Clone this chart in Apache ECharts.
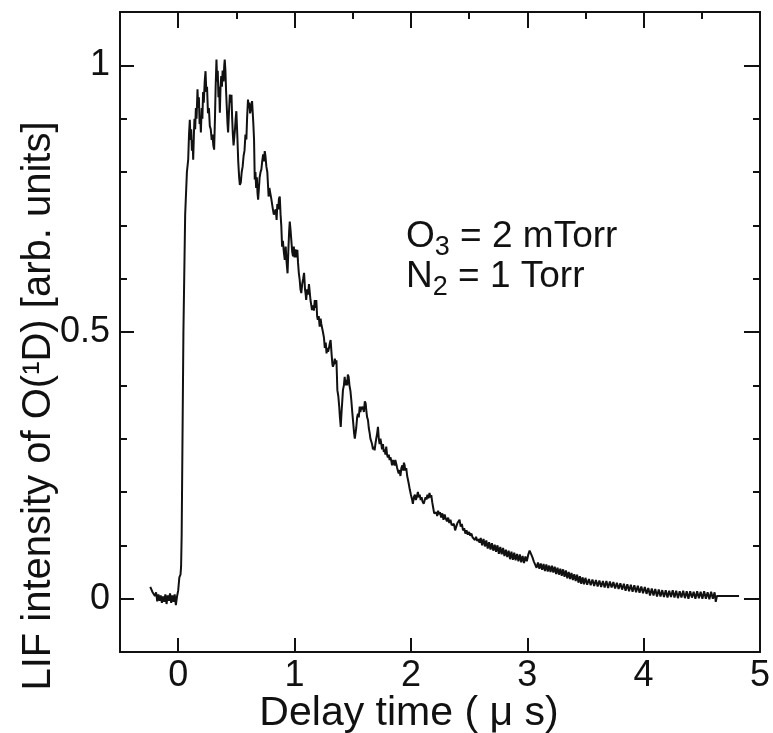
<!DOCTYPE html>
<html>
<head>
<meta charset="utf-8">
<script src="https://cdn.jsdelivr.net/npm/echarts@6/dist/echarts.min.js"></script>
<style>
html,body{margin:0;padding:0;background:#fff;}
#chart{width:773px;height:733px;}
</style>
</head>
<body>
<div id="chart"></div>
<script>
// ---- data ----
const xTickValues = [0, 1, 2, 3, 4, 5];
const xTopMinorTicks = [0.5, 1.5, 2.5, 3.5, 4.5];
const yTickValues = [0, 0.5, 1];
const yMinorTicks = [-0.1, 0.1, 0.2, 0.3, 0.4, 0.6, 0.7, 0.8, 0.9, 1.1];
const xTitle = 'Delay time ( \u03bc s)';
const yTitle = 'LIF intensity of O(\u00b9D) [arb. units]';

const timeUs = [
-0.24,-0.22,-0.20,-0.19,-0.18,-0.17,-0.16,-0.15,-0.14,-0.13,-0.12,-0.11,-0.10,-0.09,-0.08,-0.07,-0.06,-0.05,-0.04,-0.03,-0.02,-0.01,0.00,0.01,0.02,0.025,0.03,0.045,0.06,0.075,
0.086,0.093,0.100,0.106,0.112,0.118,0.124,0.129,0.135,0.140,0.146,0.152,0.158,0.166,0.172,0.178,0.184,0.190,0.195,0.202,0.208,0.214,0.220,0.228,0.235,0.242,0.248,0.256,0.264,0.272,0.280,0.288,0.295,0.302,0.309,0.316,0.322,0.329,0.335,0.340,0.346,0.352,0.358,0.364,0.370,0.376,0.382,0.390,0.396,0.400,0.406,0.412,0.418,0.424,0.429,0.436,0.444,0.450,0.458,0.464,0.470,0.476,0.481,0.488,0.494,0.500,
0.508,0.516,0.524,0.530,0.538,0.546,0.554,0.562,0.570,0.578,0.586,0.592,0.600,0.606,0.612,0.618,0.624,0.630,0.635,0.640,0.646,0.652,0.658,0.664,0.670,0.676,0.682,0.687,0.694,0.700,0.708,0.715,0.722,0.730,0.737,0.744,0.750,0.758,0.766,0.773,0.777,0.784,0.792,0.800,0.807,0.814,0.822,0.830,0.838,0.846,0.852,0.860,0.866,0.873,0.880,0.886,0.893,0.900,0.908,0.916,0.924,0.932,0.940,0.948,0.954,0.959,0.966,0.973,0.980,0.987,0.994,
1.000,1.008,1.016,1.024,1.030,1.037,1.044,1.051,1.058,1.066,1.074,1.082,1.090,1.096,1.100,1.108,1.116,1.124,1.130,1.137,1.144,1.150,1.158,1.166,1.174,1.180,1.187,1.194,1.200,1.208,1.216,1.224,1.230,1.236,1.244,1.253,1.260,1.268,1.275,1.282,1.288,1.296,1.304,1.310,1.318,1.325,1.330,1.338,1.346,1.354,1.360,1.364,1.368,1.376,1.384,1.390,1.397,1.404,1.410,1.416,1.424,1.431,1.438,1.446,1.452,1.458,1.465,1.472,1.480,1.488,1.496,
1.504,1.512,1.518,1.522,1.530,1.538,1.545,1.552,1.560,1.566,1.574,1.580,1.588,1.596,1.604,1.611,1.618,1.624,1.631,1.638,1.646,1.652,1.659,1.666,1.674,1.681,1.688,1.695,1.702,1.710,1.717,1.724,1.731,1.738,1.745,1.752,1.760,1.767,1.774,1.781,1.788,1.795,1.802,1.810,1.817,1.824,1.831,1.838,1.846,1.852,1.860,1.866,1.874,1.882,1.888,1.895,1.903,1.910,1.918,1.926,1.934,1.940,1.946,1.952,1.960,1.968,1.974,1.982,1.990,
2.000,2.008,2.017,2.025,2.034,2.042,2.050,2.060,2.068,2.076,2.084,2.092,2.100,2.110,2.118,2.126,2.134,2.142,2.150,2.160,2.168,2.175,2.184,2.192,2.200,2.208,2.218,2.226,2.234,2.242,2.250,2.260,2.270,2.280,2.290,2.300,2.310,2.320,2.330,2.340,2.350,2.360,2.370,2.380,2.390,2.400,2.410,2.418,2.428,2.438,2.448,2.458,2.468,2.478,2.489,2.500,2.510,2.520,2.530,2.540,2.550,2.560,2.570,2.580,2.590,
2.600,2.612,2.624,2.636,2.648,2.660,2.672,2.684,2.696,2.708,2.720,2.732,2.744,2.756,2.768,2.780,2.792,2.804,2.816,2.828,2.840,2.852,2.864,2.876,2.888,2.900,2.912,2.924,2.936,2.948,2.960,2.972,2.984,2.996,
3.008,3.020,3.032,3.044,3.056,3.068,3.080,3.092,3.104,3.116,3.128,3.140,3.152,3.164,3.176,3.188,3.200,3.212,3.224,3.236,3.248,3.260,3.272,3.284,3.296,3.308,3.320,3.332,3.344,3.356,3.368,3.380,3.392,3.404,3.416,3.428,3.440,3.452,3.464,3.476,3.488,
3.500,3.515,3.530,3.545,3.560,3.575,3.590,3.605,3.620,3.635,3.650,3.665,3.680,3.695,3.710,3.725,3.740,3.755,3.770,3.785,3.800,3.815,3.830,3.845,3.860,3.875,3.890,3.905,3.920,3.935,3.950,3.965,3.980,3.995,
4.010,4.025,4.040,4.055,4.070,4.085,4.100,4.115,4.130,4.145,4.160,4.175,4.190,4.205,4.220,4.235,4.250,4.265,4.280,4.295,4.310,4.325,4.340,4.355,4.370,4.385,4.400,4.415,4.430,4.445,4.460,4.475,4.490,4.505,4.520,4.535,4.550,4.565,4.580,4.595,4.610,4.620,4.630,4.820
];

const intensity = [
0.022,0.012,0.005,0.012,-0.005,0.008,-0.004,0.006,-0.008,0.004,-0.006,0.008,-0.010,0.006,-0.004,0.010,-0.008,0.006,-0.006,0.008,-0.012,0.004,0.015,0.040,0.045,0.06,0.12,0.50,0.72,0.80,
0.823,0.87,0.898,0.86,0.88,0.84,0.86,0.823,0.87,0.90,0.88,0.92,0.90,0.955,0.92,0.94,0.89,0.90,0.874,0.92,0.90,0.95,0.93,0.97,0.989,0.95,0.96,0.91,0.92,0.886,0.88,0.86,0.87,0.85,0.842,0.90,0.96,1.011,0.97,0.99,0.94,0.96,0.911,0.96,0.98,0.96,0.99,0.97,1.00,1.011,0.99,0.95,0.92,0.89,0.874,0.91,0.945,0.93,0.945,0.90,0.87,0.85,0.848,0.88,0.90,0.914,
0.87,0.82,0.79,0.776,0.78,0.80,0.81,0.83,0.84,0.87,0.861,0.90,0.936,0.92,0.93,0.91,0.917,0.92,0.933,0.936,0.89,0.861,0.786,0.80,0.77,0.79,0.76,0.748,0.77,0.79,0.80,0.805,0.82,0.833,0.82,0.839,0.83,0.81,0.80,0.798,0.754,0.77,0.76,0.75,0.748,0.73,0.72,0.717,0.73,0.71,0.74,0.73,0.75,0.754,0.72,0.70,0.66,0.671,0.65,0.635,0.66,0.63,0.61,0.66,0.69,0.707,0.69,0.67,0.65,0.642,0.66,
0.64,0.655,0.64,0.654,0.63,0.61,0.598,0.58,0.573,0.59,0.60,0.611,0.58,0.57,0.560,0.58,0.57,0.59,0.592,0.56,0.55,0.541,0.55,0.54,0.56,0.545,0.560,0.53,0.523,0.53,0.51,0.525,0.515,0.517,0.50,0.489,0.47,0.48,0.46,0.47,0.463,0.47,0.48,0.485,0.46,0.44,0.435,0.44,0.45,0.44,0.447,0.42,0.391,0.38,0.36,0.34,0.322,0.35,0.37,0.391,0.40,0.416,0.40,0.41,0.40,0.42,0.416,0.40,0.39,0.372,0.35,
0.33,0.31,0.30,0.297,0.32,0.34,0.347,0.34,0.36,0.35,0.36,0.355,0.360,0.35,0.37,0.366,0.35,0.34,0.335,0.32,0.31,0.30,0.297,0.29,0.28,0.285,0.278,0.29,0.30,0.31,0.322,0.30,0.29,0.30,0.291,0.28,0.29,0.275,0.28,0.27,0.285,0.27,0.265,0.27,0.26,0.265,0.259,0.25,0.26,0.255,0.25,0.26,0.253,0.245,0.24,0.235,0.241,0.23,0.245,0.25,0.24,0.255,0.25,0.24,0.245,0.23,0.224,0.215,0.205,
0.195,0.188,0.178,0.19,0.195,0.185,0.19,0.20,0.19,0.195,0.185,0.19,0.182,0.178,0.184,0.19,0.186,0.195,0.188,0.198,0.190,0.194,0.18,0.17,0.16,0.158,0.162,0.155,0.165,0.158,0.162,0.152,0.16,0.148,0.158,0.150,0.145,0.152,0.142,0.148,0.138,0.135,0.14,0.128,0.135,0.142,0.145,0.148,0.135,0.14,0.128,0.132,0.122,0.128,0.12,0.125,0.118,0.122,0.115,0.118,0.11,0.116,0.108,0.112,0.105,
0.114,0.100,0.112,0.098,0.109,0.094,0.106,0.092,0.104,0.090,0.101,0.088,0.100,0.084,0.097,0.083,0.095,0.080,0.092,0.078,0.090,0.074,0.088,0.073,0.086,0.072,0.084,0.070,0.083,0.068,0.080,0.067,0.079,0.070,
0.082,0.090,0.084,0.078,0.070,0.064,0.058,0.068,0.056,0.066,0.054,0.065,0.052,0.064,0.051,0.062,0.050,0.062,0.049,0.060,0.046,0.058,0.045,0.056,0.043,0.055,0.041,0.053,0.038,0.050,0.037,0.048,0.035,0.046,0.033,0.045,0.030,0.042,0.028,0.040,0.027,
0.039,0.026,0.037,0.025,0.036,0.024,0.035,0.023,0.034,0.022,0.033,0.021,0.033,0.020,0.032,0.021,0.031,0.019,0.030,0.018,0.029,0.017,0.028,0.015,0.027,0.014,0.026,0.013,0.025,0.012,0.024,0.011,0.023,0.010,
0.022,0.009,0.020,0.006,0.019,0.006,0.018,0.004,0.017,0.004,0.016,0.003,0.016,0.002,0.015,0.003,0.016,0.002,0.015,0.001,0.014,0.002,0.015,0.001,0.014,0.000,0.014,0.002,0.013,0.000,0.014,0.001,0.013,0.000,0.014,0.000,0.012,-0.001,0.013,0.000,0.012,-0.006,0.005,0.005
];

const trace = timeUs.map((t, i) => [t, intensity[i]]);

const FONT = '"Liberation Sans", Arial, Helvetica, sans-serif';
const INK = '#111';
const axisLine = { show: true, onZero: false, lineStyle: { color: INK, width: 2 } };

function xAx(pos, ticks, len, labels) {
  return {
    type: 'value', position: pos, min: -0.5, max: 5,
    axisLine: axisLine,
    axisTick: { show: true, inside: true, length: len, customValues: ticks, lineStyle: { color: INK, width: 2 } },
    axisLabel: labels ? { show: true, customValues: ticks, fontSize: 36, color: INK, fontFamily: FONT, margin: 6 } : { show: false },
    splitLine: { show: false }
  };
}
function yAx(pos, ticks, len, labels) {
  return {
    type: 'value', position: pos, min: -0.1, max: 1.1,
    axisLine: axisLine,
    axisTick: { show: true, inside: true, length: len, customValues: ticks, lineStyle: { color: INK, width: 2 } },
    axisLabel: labels ? { show: true, customValues: ticks, fontSize: 36, color: INK, fontFamily: FONT, margin: 10 } : { show: false },
    splitLine: { show: false }
  };
}

const chart = echarts.init(document.getElementById('chart'), null, { renderer: 'canvas' });
chart.setOption({
  backgroundColor: '#fff',
  animation: false,
  grid: { left: 120, right: 11, top: 12, bottom: 81, containLabel: false },
  xAxis: [
    xAx('bottom', xTickValues, 14, true),
    xAx('top', xTickValues, 16, false),
    xAx('top', xTopMinorTicks, 7, false)
  ],
  yAxis: [
    yAx('left', yTickValues, 14, true),
    yAx('left', yMinorTicks, 7, false),
    yAx('right', yTickValues, 16, false),
    yAx('right', yMinorTicks, 7, false)
  ],
  series: [{
    type: 'line', xAxisIndex: 0, yAxisIndex: 0,
    data: trace, showSymbol: false, smooth: false,
    lineStyle: { color: INK, width: 2 }
  }],
  graphic: [
    {
      type: 'text', x: 39, y: 406, rotation: Math.PI / 2,
      style: { text: yTitle, fontSize: 40, fontFamily: FONT, fill: INK, align: 'center', verticalAlign: 'middle' }
    },
    {
      type: 'text', x: 409, y: 714,
      style: { text: xTitle, fontSize: 41, fontFamily: FONT, fill: INK, align: 'center', verticalAlign: 'middle' }
    },
    {
      type: 'text', x: 406, y: 218,
      style: {
        text: '{a|O}{s|3}{a| = 2 mTorr}\n{a|N}{s|2}{a| = 1 Torr}',
        fontFamily: FONT, fill: INK,
        rich: {
          a: { fontSize: 37, fontFamily: FONT, fill: INK, lineHeight: 40, verticalAlign: 'top' },
          s: { fontSize: 27, fontFamily: FONT, fill: INK, lineHeight: 40, padding: [16, 0, 0, 0], verticalAlign: 'top' }
        }
      }
    }
  ]
});
</script>
</body>
</html>
